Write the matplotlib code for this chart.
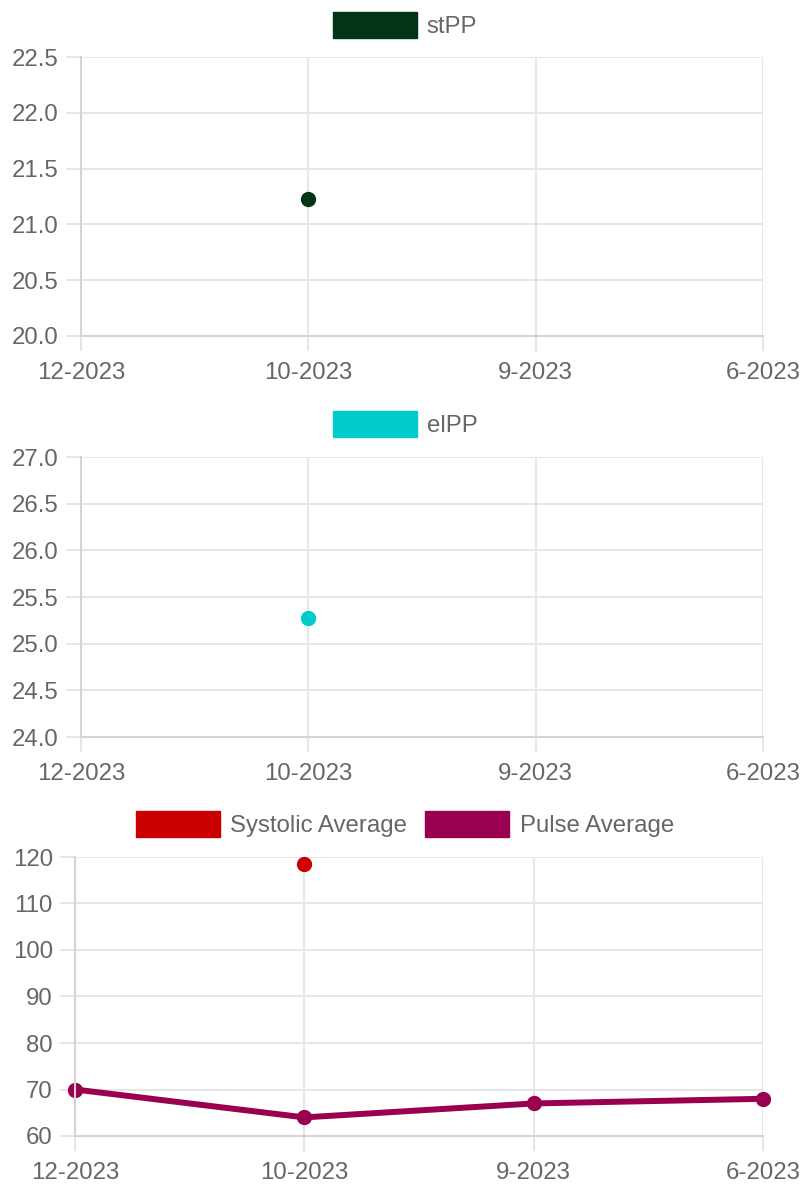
import matplotlib
matplotlib.use("Agg")
import matplotlib.pyplot as plt
from matplotlib.patches import Patch
import numpy as np

plt.rcParams['font.family'] = ['Liberation Sans', 'DejaVu Sans']

months = ["12-2023", "10-2023", "9-2023", "6-2023"]
stpp = [np.nan, 21.23, np.nan, np.nan]
elpp = [np.nan, 25.27, np.nan, np.nan]
systolic_avg = [np.nan, 118.5, np.nan, np.nan]
pulse_avg = [70, 64, 67, 68]

stpp_ticks = [20.0, 20.5, 21.0, 21.5, 22.0, 22.5]
elpp_ticks = [24.0, 24.5, 25.0, 25.5, 26.0, 26.5, 27.0]
bp_ticks = [60, 70, 80, 90, 100, 110, 120]

C_STPP = "#023518"
C_ELPP = "#00cccc"
C_SYS = "#cc0000"
C_PULSE = "#990050"
GRID = "#e6e6e6"
TXT = "#666666"

W, H = 804, 1185
fig = plt.figure(figsize=(W / 100, H / 100), dpi=100)
FS = 17.3

def make_ax(left, top, right, bottom):
    return fig.add_axes([left / W, 1 - bottom / H, (right - left) / W, (bottom - top) / H])

def style(ax, yticks, fmt):
    x = np.arange(len(months))
    ax.set_xlim(0, len(months) - 1)
    ax.set_xticks(x)
    ax.set_xticklabels(months)
    ax.set_ylim(yticks[0], yticks[-1])
    ax.set_yticks(yticks)
    ax.set_yticklabels([fmt.format(v) for v in yticks])
    ax.grid(True, color=GRID, linewidth=1.4)
    ax.set_axisbelow(True)
    for s in ["top", "right"]:
        ax.spines[s].set_visible(False)
    for s in ["left", "bottom"]:
        ax.spines[s].set_color("#d4d4d4")
        ax.spines[s].set_linewidth(1.5)
    ax.tick_params(axis="both", colors=GRID, labelcolor=TXT, labelsize=FS,
                   length=11, width=1.4)
    ax.tick_params(axis="x", pad=7.5)
    ax.tick_params(axis="y", pad=5)

def legend(ax, items, ycenter):
    handles = [Patch(facecolor=c, edgecolor=c, label=l) for l, c in items]
    ax.legend(handles=handles, loc="center", bbox_to_anchor=(405 / W, 1 - ycenter / H),
              bbox_transform=fig.transFigure, frameon=False, fontsize=FS,
              handlelength=3.5, handleheight=1.25, handletextpad=0.42,
              columnspacing=0.75, ncol=len(items), labelcolor=TXT, borderpad=0)

x = np.arange(len(months))

ax1 = make_ax(81, 57, 763, 336)
style(ax1, stpp_ticks, "{:.1f}")
ax1.plot(x, stpp, color=C_STPP, marker="o", markersize=10, linewidth=4, clip_on=False)
legend(ax1, [("stPP", C_STPP)], 25)

ax2 = make_ax(81, 457, 763, 737)
style(ax2, elpp_ticks, "{:.1f}")
ax2.plot(x, elpp, color=C_ELPP, marker="o", markersize=10, linewidth=4, clip_on=False)
legend(ax2, [("elPP", C_ELPP)], 424)

ax3 = make_ax(75, 857, 763, 1136)
style(ax3, bp_ticks, "{:.0f}")
ax3.plot(x, systolic_avg, color=C_SYS, marker="o", markersize=10, linewidth=4.3, clip_on=False)
ax3.plot(x, pulse_avg, color=C_PULSE, marker="o", markersize=10, linewidth=4.3, clip_on=False)
legend(ax3, [("Systolic Average", C_SYS), ("Pulse Average", C_PULSE)], 824)

fig.savefig("out.png", dpi=100)
